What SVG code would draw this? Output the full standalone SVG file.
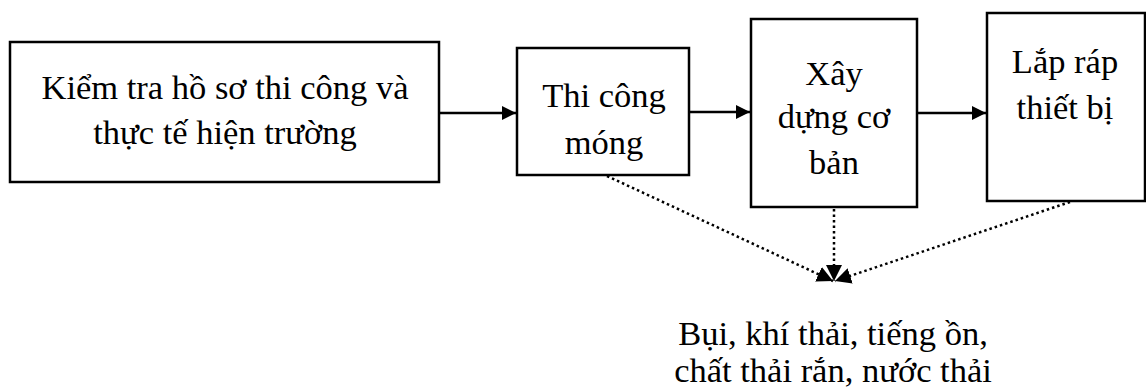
<svg xmlns="http://www.w3.org/2000/svg" width="1146" height="390" viewBox="0 0 1146 390">
  <style>
    .box { fill: #ffffff; stroke: #000000; stroke-width: 2.5; }
    .label { font-family: "Liberation Serif", "Times New Roman", serif; font-size: 34.5px; fill: #000000; text-anchor: middle; }
    .flow { stroke: #000000; stroke-width: 2.5; fill: none; }
    .dot { stroke: #000000; stroke-width: 2.5; stroke-dasharray: 2.5 3; fill: none; }
  </style>
  <defs>
    <marker id="head" markerWidth="14" markerHeight="14" viewBox="0 0 14 14" refX="14" refY="7" orient="auto" markerUnits="userSpaceOnUse">
      <path d="M0,0 L14,7 L0,14 Z" fill="#000000"/>
    </marker>
    <marker id="headDot" markerWidth="16" markerHeight="16" viewBox="0 0 16 16" refX="16" refY="8" orient="auto" markerUnits="userSpaceOnUse">
      <path d="M0,0 L16,8 L0,16 Z" fill="#000000"/>
    </marker>
  </defs>

  <g id="connectors">
    <line class="flow" x1="439" y1="113" x2="516" y2="113" marker-end="url(#head)"/>
    <line class="flow" x1="689" y1="112" x2="750" y2="112" marker-end="url(#head)"/>
    <line class="flow" x1="917" y1="113" x2="986" y2="113" marker-end="url(#head)"/>
    <line class="dot" x1="607" y1="176" x2="833" y2="281" marker-end="url(#headDot)"/>
    <line class="dot" x1="834" y1="209" x2="834" y2="281" marker-end="url(#headDot)"/>
    <line class="dot" x1="1070" y1="202" x2="835" y2="281" marker-end="url(#headDot)"/>
  </g>

  <g id="n-kiem-tra">
    <rect class="box" x="10" y="42" width="429" height="140"/>
    <text class="label" x="225" y="99">Kiểm tra hồ sơ thi công và</text>
    <text class="label" x="225" y="144">thực tế hiện trường</text>
  </g>

  <g id="n-mong">
    <rect class="box" x="517" y="48" width="172" height="127"/>
    <text class="label" x="604" y="107">Thi công</text>
    <text class="label" x="604" y="154">móng</text>
  </g>

  <g id="n-xay-dung">
    <rect class="box" x="751" y="19" width="166" height="188"/>
    <text class="label" x="834" y="85">Xây</text>
    <text class="label" x="834" y="128">dựng cơ</text>
    <text class="label" x="834" y="174">bản</text>
  </g>

  <g id="n-lap-rap">
    <rect class="box" x="987" y="13" width="158" height="188"/>
    <text class="label" x="1065" y="73">Lắp ráp</text>
    <text class="label" x="1065" y="119">thiết bị</text>
  </g>

  <g id="n-chat-thai">
    <text class="label" x="833" y="345">Bụi, khí thải, tiếng ồn,</text>
    <text class="label" x="833" y="382">chất thải rắn, nước thải</text>
  </g>
</svg>
